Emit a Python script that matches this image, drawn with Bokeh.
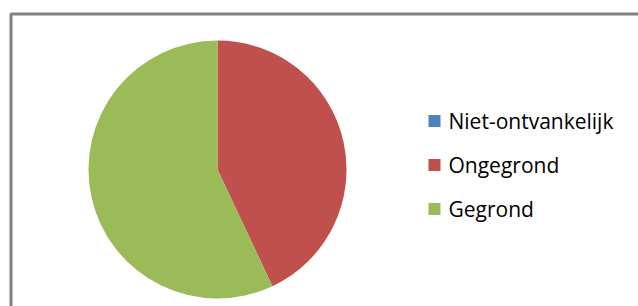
from bokeh.plotting import figure
from bokeh.models import Range1d
from bokeh.core.properties import value
from bokeh.embed import file_html
from bokeh.resources import INLINE
import math

# Data
categories = ["Niet-ontvankelijk", "Ongegrond", "Gegrond"]
shares = [0.0, 43.0, 57.0]
colors = ["#4F81BD", "#C0504D", "#9BBB59"]

W, H = 638, 306
p = figure(width=W, height=H, output_backend="svg", toolbar_location=None,
           x_range=Range1d(0, W), y_range=Range1d(0, H),
           min_border=0, outline_line_color=None)
p.axis.visible = False
p.grid.visible = False
p.background_fill_color = "white"
p.border_fill_color = "white"

# chart frame (partly cut off at right/bottom)
p.line(x=[10.5, 10.5, 800], y=[-50, H - 13.5, H - 13.5], line_color="#808080", line_width=3)

# pie
cx, cy, r = 217, H - 169, 129
total = sum(shares)
cum = 0.0
starts, ends = [], []
for s in shares:
    starts.append(math.pi / 2 - 2 * math.pi * cum / total)
    cum += s
    ends.append(math.pi / 2 - 2 * math.pi * cum / total)
for st, en, c, s in zip(starts, ends, colors, shares):
    if s > 0:
        p.wedge(x=cx, y=cy, radius=r, start_angle=st, end_angle=en,
                direction="clock", fill_color=c, line_color=None)

# legend
lx, ly0, dy = 434, H - 120.5, 44
for i, (cat, c) in enumerate(zip(categories, colors)):
    y = ly0 - i * dy
    p.scatter(x=[lx], y=[y], marker="square", size=12, fill_color=c, line_color=None)
    p.text(x=[lx + 14], y=[y], text=[cat], text_font=value("Open Sans"),
           text_font_size="21px", text_baseline="middle", text_align="left",
           text_color="black")

open("out.html", "w").write(file_html(p, INLINE))
